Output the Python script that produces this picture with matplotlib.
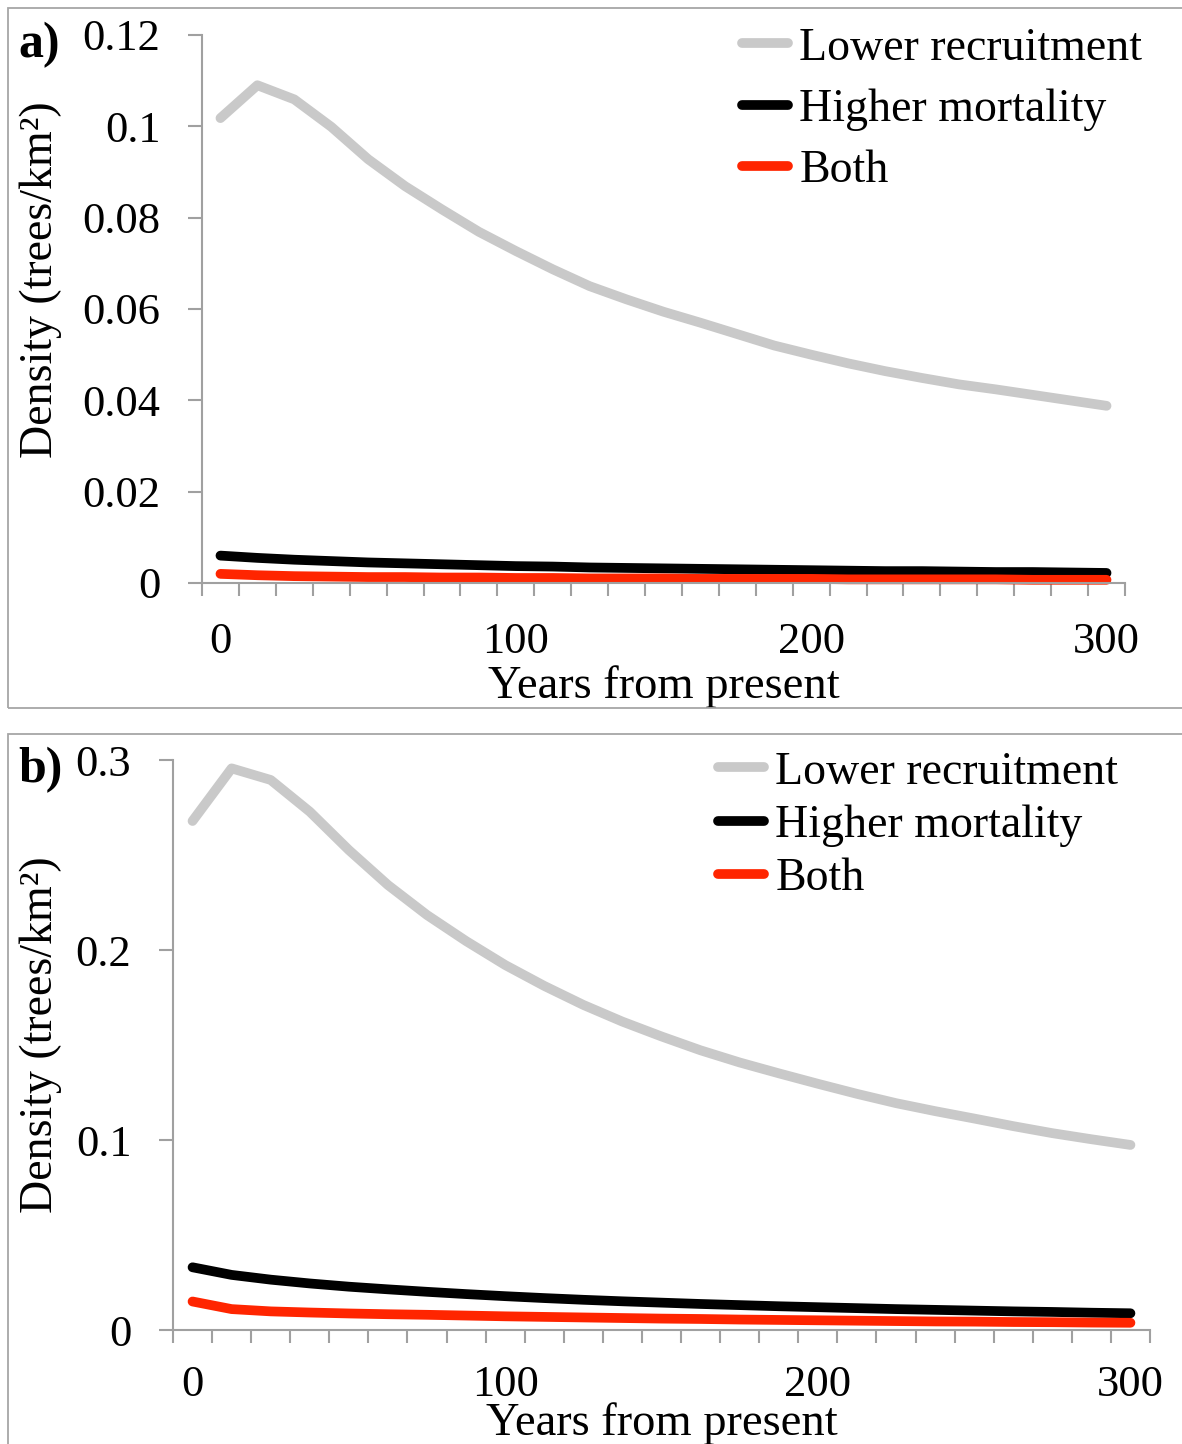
import matplotlib
matplotlib.use("Agg")
import matplotlib.pyplot as plt
from matplotlib.patches import Rectangle
from matplotlib.ticker import FuncFormatter, FixedLocator

plt.rcParams['font.family'] = ['Liberation Serif', 'DejaVu Serif']

# years from present (category axis, one point every 12.5 years)
years = [0, 12.5, 25, 37.5, 50, 62.5, 75, 87.5, 100, 112.5, 125, 137.5, 150,
         162.5, 175, 187.5, 200, 212.5, 225, 237.5, 250, 262.5, 275, 287.5, 300]

# panel a
a_lower = [0.1018, 0.1090, 0.1059, 0.0999, 0.0928, 0.0869, 0.0818, 0.0769, 0.0727,
           0.0687, 0.0650, 0.0621, 0.0594, 0.0570, 0.0545, 0.0520, 0.0500, 0.0481,
           0.0464, 0.0449, 0.0435, 0.0424, 0.0412, 0.0400, 0.0388]
a_mort = [0.0060, 0.0055, 0.0051, 0.0048, 0.0045, 0.0043, 0.0041, 0.0039, 0.0037,
          0.0036, 0.0034, 0.0033, 0.0032, 0.0031, 0.0030, 0.0029, 0.0028, 0.0027,
          0.0026, 0.0026, 0.0025, 0.0024, 0.0024, 0.0023, 0.0022]
a_both = [0.0020, 0.0017, 0.0015, 0.0014, 0.0013, 0.0013, 0.0012, 0.0012, 0.0011,
          0.0011, 0.0010, 0.0010, 0.0010, 0.0009, 0.0009, 0.0009, 0.0009, 0.0008,
          0.0008, 0.0008, 0.0008, 0.0008, 0.0007, 0.0007, 0.0007]

# panel b
b_lower = [0.2679, 0.2956, 0.2895, 0.2728, 0.2526, 0.2342, 0.2184, 0.2047, 0.1921,
           0.1811, 0.1711, 0.1623, 0.1545, 0.1472, 0.1408, 0.1351, 0.1296, 0.1243,
           0.1194, 0.1152, 0.1113, 0.1073, 0.1036, 0.1004, 0.0974]
b_mort = [0.0330, 0.0290, 0.0265, 0.0245, 0.0228, 0.0214, 0.0201, 0.0189, 0.0178,
          0.0168, 0.0159, 0.0151, 0.0144, 0.0137, 0.0131, 0.0125, 0.0120, 0.0115,
          0.0110, 0.0106, 0.0102, 0.0098, 0.0095, 0.0091, 0.0088]
b_both = [0.0150, 0.0110, 0.0098, 0.0092, 0.0087, 0.0083, 0.0080, 0.0076, 0.0072,
          0.0069, 0.0066, 0.0063, 0.0060, 0.0058, 0.0055, 0.0053, 0.0051, 0.0049,
          0.0047, 0.0045, 0.0044, 0.0042, 0.0041, 0.0039, 0.0038]

series_names = ['Lower recruitment', 'Higher mortality', 'Both']
colors = ['#c9c9c9', '#000000', '#ff2500']
xlabels = [0, 100, 200, 300]

W, H = 1182, 1444
fig = plt.figure(figsize=(W / 100, H / 100), dpi=100)

# panel frames (like the Excel chart areas)
fig.patches.append(Rectangle((8 / W, 1 - 708 / H), 1.2, 700 / H, transform=fig.transFigure,
                             fill=False, edgecolor='#a6a6a6', lw=1.3))
fig.patches.append(Rectangle((8 / W, -0.1), 1.2, 0.1 + 1 - 734 / H, transform=fig.transFigure,
                             fill=False, edgecolor='#a6a6a6', lw=1.3))

axa = fig.add_axes([202 / W, 1 - 583 / H, 923 / W, 548 / H])
axb = fig.add_axes([173 / W, 1 - 1330 / H, 977 / W, 570 / H])

panels = [
    (axa, [a_lower, a_mort, a_both], 0.12, [0, 0.02, 0.04, 0.06, 0.08, 0.1, 0.12],
     (-0.152, 0.553), (742 / W, 1 - 27 / H), 0.41, -0.15, 28),
    (axb, [b_lower, b_mort, b_both], 0.3, [0, 0.1, 0.2, 0.3],
     (-0.114, 0.518), (718 / W, 1 - 751 / H), 0.24, -0.126, 25),
]

for ax, data, ymax, yt, ylab_pos, leg_pos, lsp, xlab_y, xpad in panels:
    for vals, name, c in zip(data, series_names, colors):
        ax.plot(years, vals, color=c, lw=7, label=name, solid_capstyle='round',
                clip_on=False)
    ax.set_xlim(-6.25, 306.25)
    ax.set_ylim(0, ymax)
    for s in ['top', 'right']:
        ax.spines[s].set_visible(False)
    for s in ['left', 'bottom']:
        ax.spines[s].set_color('#a0a0a0')
        ax.spines[s].set_linewidth(1.5)

    # category boundaries get tick marks, labels sit at category centres
    bounds = [y - 6.25 for y in years] + [306.25]
    ax.xaxis.set_major_locator(FixedLocator(bounds))
    ax.xaxis.set_major_formatter(FuncFormatter(lambda v, p: ''))
    ax.xaxis.set_minor_locator(FixedLocator(xlabels))
    ax.xaxis.set_minor_formatter(FuncFormatter(lambda v, p: '%g' % v))
    ax.tick_params(axis='x', which='major', direction='out', length=9.5, width=1.5,
                   color='#a0a0a0')
    ax.tick_params(axis='x', which='minor', length=0, pad=xpad, labelsize=32)

    ax.set_yticks(yt)
    ax.yaxis.set_major_formatter(FuncFormatter(lambda v, p: '%g' % v))
    ax.tick_params(axis='y', direction='out', length=10, width=1.5, color='#a0a0a0',
                   pad=20, labelsize=32)

    ax.set_xlabel('Years from present', fontsize=33.5)
    ax.xaxis.set_label_coords(0.5, xlab_y)
    ax.set_ylabel('Density (trees/km²)', fontsize=33)
    ax.yaxis.set_label_coords(*ylab_pos)

    ax.legend(loc='upper left', bbox_to_anchor=leg_pos, bbox_transform=fig.transFigure,
              frameon=False, fontsize=33, handlelength=1.0, handletextpad=0.25,
              labelspacing=lsp, borderpad=0, borderaxespad=0)

fig.text(18 / W, 1 - 45 / H, 'a)', fontsize=36, fontweight='bold', va='center')
fig.text(18 / W, 1 - 770 / H, 'b)', fontsize=36, fontweight='bold', va='center')

fig.savefig('out.png', dpi=100)
